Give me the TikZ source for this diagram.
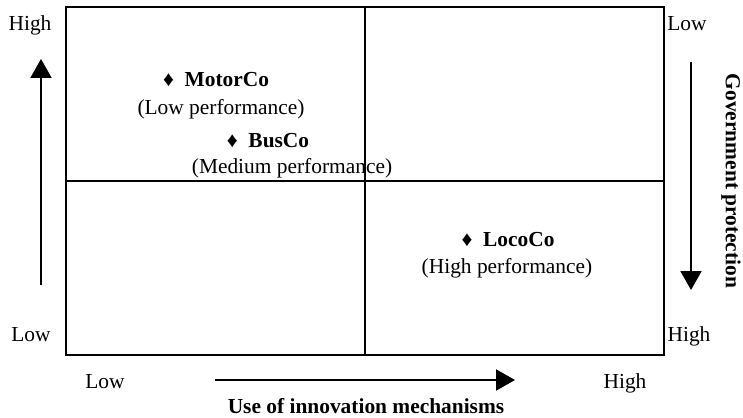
\documentclass[tikz,border=0pt]{standalone}
\usepackage{fontspec}
\setmainfont{Liberation Serif}
\usetikzlibrary{arrows.meta, positioning}

\begin{document}
\begin{tikzpicture}[
    x=0.5pt, y=-0.5pt,
    every node/.style={font=\fontsize{10.7}{13}\selectfont, inner sep=0pt},
    lbl/.style={anchor=base},
    firm/.style={anchor=base, font=\fontsize{10.7}{13}\selectfont\bfseries},
    axis/.style={font=\fontsize{10.7}{13}\selectfont\bfseries},
    arrow/.style={-{Triangle[length=9.5pt, width=10.5pt]}, line width=1pt},
    frame/.style={draw, line width=1pt, minimum width=299pt, minimum height=174pt}
]
    \useasboundingbox (0,0) rectangle (743,417);

    % quadrant frame
    \node[frame] (grid) at (365,181) {};
    \draw[line width=0.9pt] (grid.north) -- (grid.south);
    \draw[line width=0.9pt] (grid.west) -- (grid.east);

    % firms
    \node[firm] (motor) at (216,87) {♦\enspace MotorCo};
    \node[lbl] (motorp) at (221,114) {(Low performance)};
    \node[firm] (bus) at (268,147) {♦\enspace BusCo};
    \node[lbl] (busp) at (292,173) {(Medium performance)};
    \node[firm] (loco) at (508,246) {♦\enspace LocoCo};
    \node[lbl] (locop) at (507,273) {(High performance)};

    % scale labels
    \node[lbl] (lhigh) at (30,31) {High};
    \node[lbl] (llow) at (31,341) {Low};
    \node[lbl] (rlow) at (687,31) {Low};
    \node[lbl] (rhigh) at (689,341) {High};
    \node[lbl] (blow) at (105,388) {Low};
    \node[lbl] (bhigh) at (625,388) {High};

    % axis arrows
    \coordinate (up0) at (41,285);
    \coordinate (up1) at (41,59);
    \coordinate (dn0) at (691,62);
    \coordinate (dn1) at (691,290);
    \coordinate (rt0) at (215,380);
    \coordinate (rt1) at (515,380);
    \draw[arrow] (up0) -- (up1);
    \draw[arrow] (dn0) -- (dn1);
    \draw[arrow] (rt0) -- (rt1);

    \node[axis, anchor=base] (xtitle) at (366,413) {Use of innovation mechanisms};
    \node[axis, rotate=-90] (ytitle) at (731,181) {Government protection};
\end{tikzpicture}
\end{document}
